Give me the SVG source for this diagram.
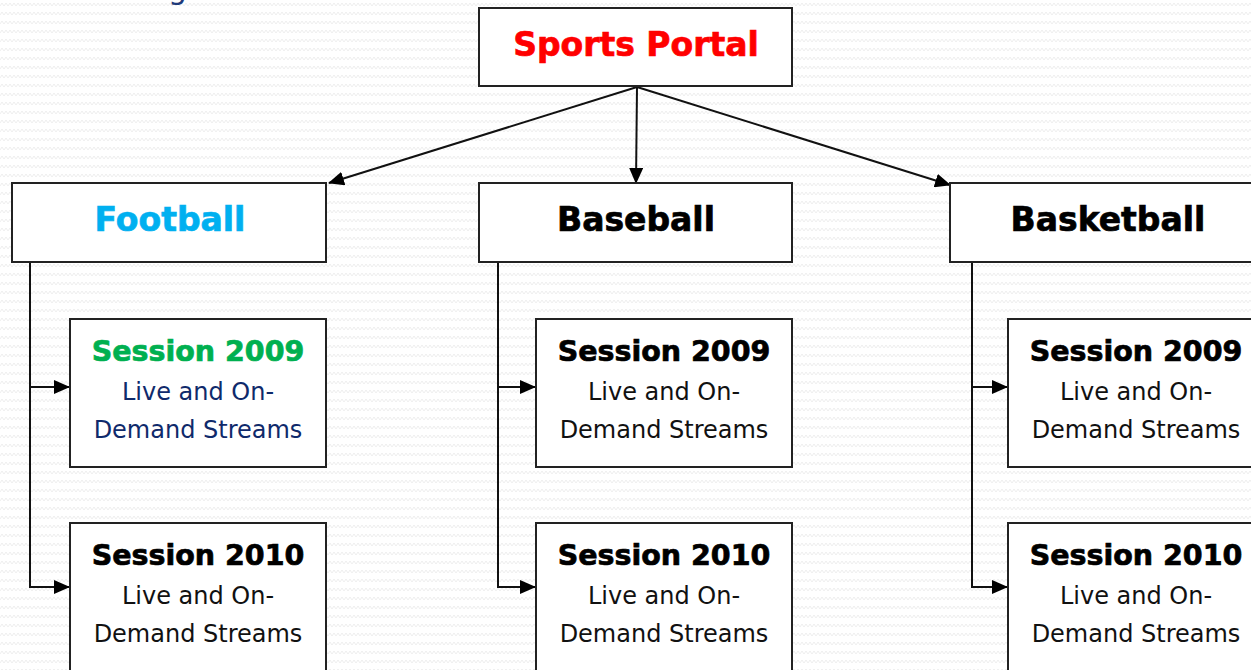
<svg xmlns="http://www.w3.org/2000/svg" width="1251" height="670" viewBox="0 0 1251 670">
<defs>
<pattern id="zz" width="8" height="9" patternUnits="userSpaceOnUse">
<polyline points="0,6 2,3 4,6 6,3 8,6" fill="none" stroke="#eeeeee" stroke-width="1"/>
</pattern>
<marker id="ah2" markerWidth="16" markerHeight="14" refX="15" refY="7" orient="auto" markerUnits="userSpaceOnUse">
<path d="M0,0 L16,7 L0,14 Z" fill="#000"/>
</marker>
</defs>
<style>
.box{fill:#fff;stroke:#222;stroke-width:2}
.t{font-family:"DejaVu Sans",Verdana,sans-serif;font-weight:bold;text-anchor:middle;stroke-width:0.7}
.h{font-size:33px}
.s{font-size:28.5px}
.d{font-family:"DejaVu Sans",Verdana,sans-serif;font-size:24px;text-anchor:middle;fill:#111}
.nv{fill:#0f2a6b}
.c{fill:none;stroke:#111;stroke-width:2}
</style>
<rect width="1251" height="670" fill="#fff"/>
<rect width="1251" height="670" fill="url(#zz)"/>
<text x="168" y="-1" font-family="DejaVu Sans,sans-serif" font-size="30" fill="#1f3a7a">g</text>
<g id="connectors">
<line class="c" x1="637" y1="87" x2="329" y2="183" marker-end="url(#ah2)"/>
<line class="c" x1="637" y1="87" x2="636" y2="183" marker-end="url(#ah2)"/>
<line class="c" x1="637" y1="87" x2="950" y2="185" marker-end="url(#ah2)"/>
<polyline class="c" points="30,262 30,587 69,587" marker-end="url(#ah2)"/>
<line class="c" x1="30" y1="387" x2="69" y2="387" marker-end="url(#ah2)"/>
<polyline class="c" points="498,262 498,587 535,587" marker-end="url(#ah2)"/>
<line class="c" x1="498" y1="387" x2="535" y2="387" marker-end="url(#ah2)"/>
<polyline class="c" points="972,262 972,587 1007,587" marker-end="url(#ah2)"/>
<line class="c" x1="972" y1="387" x2="1007" y2="387" marker-end="url(#ah2)"/>
</g>
<g id="portal"><rect class="box" x="479" y="8" width="313" height="78"/><text class="t h" x="636" y="56" fill="#ff0000" stroke="#ff0000">Sports Portal</text></g>
<g id="football"><rect class="box" x="12" y="183" width="314" height="79"/><text class="t h" x="170" y="231" fill="#00b0f0" stroke="#00b0f0">Football</text></g>
<g id="baseball"><rect class="box" x="479" y="183" width="313" height="79"/><text class="t h" x="636" y="231" fill="#000" stroke="#000">Baseball</text></g>
<g id="basketball"><rect class="box" x="950" y="183" width="320" height="79"/><text class="t h" x="1108" y="231" fill="#000" stroke="#000">Basketball</text></g>
<g id="fb2009"><rect class="box" x="70" y="319" width="256" height="148"/><text class="t s" x="198" y="361" fill="#00b050" stroke="#00b050">Session 2009</text><text class="d nv" x="198" y="400">Live and On-</text><text class="d nv" x="198" y="438">Demand Streams</text></g>
<g id="fb2010"><rect class="box" x="70" y="523" width="256" height="160"/><text class="t s" x="198" y="565" fill="#000" stroke="#000">Session 2010</text><text class="d" x="198" y="604">Live and On-</text><text class="d" x="198" y="642">Demand Streams</text></g>
<g id="bb2009"><rect class="box" x="536" y="319" width="256" height="148"/><text class="t s" x="664" y="361" fill="#000" stroke="#000">Session 2009</text><text class="d" x="664" y="400">Live and On-</text><text class="d" x="664" y="438">Demand Streams</text></g>
<g id="bb2010"><rect class="box" x="536" y="523" width="256" height="160"/><text class="t s" x="664" y="565" fill="#000" stroke="#000">Session 2010</text><text class="d" x="664" y="604">Live and On-</text><text class="d" x="664" y="642">Demand Streams</text></g>
<g id="bk2009"><rect class="box" x="1008" y="319" width="270" height="148"/><text class="t s" x="1136" y="361" fill="#000" stroke="#000">Session 2009</text><text class="d" x="1136" y="400">Live and On-</text><text class="d" x="1136" y="438">Demand Streams</text></g>
<g id="bk2010"><rect class="box" x="1008" y="523" width="270" height="160"/><text class="t s" x="1136" y="565" fill="#000" stroke="#000">Session 2010</text><text class="d" x="1136" y="604">Live and On-</text><text class="d" x="1136" y="642">Demand Streams</text></g>
</svg>
